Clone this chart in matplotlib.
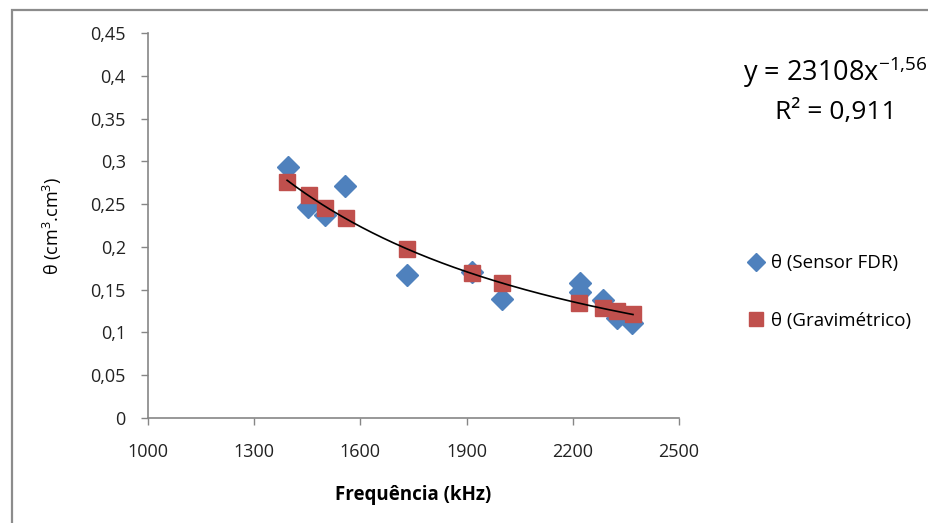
import numpy as np
import matplotlib.pyplot as plt
from matplotlib.patches import Rectangle

# Sensor FDR readings
freq_fdr = [1395, 1452, 1500, 1556, 1732, 1915, 2000, 2220, 2220, 2285, 2325, 2367]
theta_fdr = [0.293, 0.247, 0.237, 0.271, 0.167, 0.171, 0.139, 0.158, 0.147, 0.138, 0.117, 0.111]

# Gravimetric moisture
freq_grav = [1393, 1455, 1500, 1559, 1732, 1915, 2000, 2218, 2285, 2325, 2370]
theta_grav = [0.276, 0.261, 0.245, 0.234, 0.198, 0.169, 0.158, 0.134, 0.129, 0.125, 0.122]

# power trend y = a * x^b
coef_a = 23108
coef_b = -1.5649
r2 = 0.911

x_ticks = [1000, 1300, 1600, 1900, 2200, 2500]
y_ticks = [0, 0.05, 0.1, 0.15, 0.2, 0.25, 0.3, 0.35, 0.4, 0.45]

plt.rcParams['font.family'] = ['Open Sans', 'DejaVu Sans']
plt.rcParams['mathtext.fontset'] = 'custom'
plt.rcParams['mathtext.rm'] = 'Open Sans'

blue = '#4F81BD'
red = '#C0504D'
gray = '#868686'

fig = plt.figure(figsize=(9.29, 5.23), dpi=100)
ax = fig.add_axes([148 / 929, 1 - 418 / 523, (679 - 148) / 929, (418 - 33) / 523])

# chart area border
fig.patches.append(Rectangle((12 / 929, -0.1), 1.2, (523 - 10) / 523 + 0.1,
                             transform=fig.transFigure, fill=False,
                             edgecolor='#8c8c8c', linewidth=1.6))

ax.plot(freq_fdr, theta_fdr, linestyle='none', marker='D', markersize=11,
        color=blue, label='θ (Sensor FDR)', zorder=3)
ax.plot(freq_grav, theta_grav, linestyle='none', marker='s', markersize=12,
        color=red, label='θ (Gravimétrico)', zorder=4)

xs = np.linspace(min(freq_grav), max(freq_grav), 200)
ax.plot(xs, coef_a * xs ** coef_b, color='black', linewidth=1.2, zorder=5)

ax.set_xlim(1000, 2500)
ax.set_ylim(0, 0.45)
ax.set_xticks(x_ticks)
ax.set_yticks(y_ticks)
ax.set_xticklabels([str(t) for t in x_ticks])
ax.set_yticklabels([('%g' % t).replace('.', ',') for t in y_ticks])

for side in ['top', 'right']:
    ax.spines[side].set_visible(False)
for side in ['left', 'bottom']:
    ax.spines[side].set_color(gray)
    ax.spines[side].set_linewidth(1.2)
ax.tick_params(axis='both', direction='out', length=5, width=1, color=gray,
               labelsize=13, labelcolor='#222222')
ax.tick_params(axis='y', pad=11)
ax.tick_params(axis='x', pad=13)

ax.set_xlabel('Frequência (kHz)', fontsize=13.5, fontweight='bold', labelpad=17)
ax.set_ylabel('θ (cm$^3$.cm$^3$)', fontsize=13, labelpad=19)

exp_txt = ('%.2f' % coef_b).replace('.', '{,}')
fig.text(928 / 929, 1 - 72 / 523, r'y = %dx$^{%s}$' % (coef_a, exp_txt),
         fontsize=19.5, ha='right', va='center')
fig.text(836 / 929, 1 - 113 / 523, ('R² = %.3f' % r2).replace('.', ','),
         fontsize=19, ha='center', va='center')

ax.legend(loc='center left', bbox_to_anchor=(732 / 929, 1 - 292 / 523),
          bbox_transform=fig.transFigure, frameon=False, fontsize=13.5,
          labelspacing=2.1, handlelength=0.8, handletextpad=0.4, markerscale=0.8)

fig.savefig('out.png', dpi=100)
